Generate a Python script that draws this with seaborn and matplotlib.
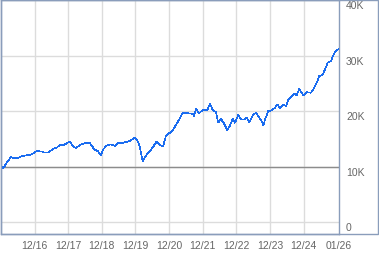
import matplotlib
matplotlib.use("Agg")
import matplotlib.pyplot as plt
import seaborn as sns
import pandas as pd
from matplotlib.patches import Rectangle

# decimal-year positions
years = [2015.917, 2015.985, 2016.087, 2016.214, 2016.304, 2016.402, 2016.503, 2016.631,
         2016.779, 2016.878, 2016.979, 2017.127, 2017.226, 2017.324, 2017.472, 2017.574,
         2017.672, 2017.791, 2017.871, 2017.969, 2018.049, 2018.147, 2018.266, 2018.365,
         2018.484, 2018.564, 2018.692, 2018.793, 2018.891, 2018.959, 2019.060, 2019.188,
         2019.307, 2019.405, 2019.507, 2019.626, 2019.753, 2019.881, 2019.982, 2020.051,
         2020.131, 2020.220, 2020.348, 2020.446, 2020.547, 2020.646, 2020.744, 2020.824,
         2020.943, 2021.041, 2021.190, 2021.321, 2021.487, 2021.618, 2021.657, 2021.716,
         2021.814, 2021.915, 2022.052, 2022.133, 2022.213, 2022.311, 2022.379, 2022.451,
         2022.528, 2022.647, 2022.727, 2022.808, 2022.876, 2022.974, 2023.055, 2023.174,
         2023.224, 2023.301, 2023.402, 2023.501, 2023.569, 2023.670, 2023.718, 2023.789,
         2023.867, 2023.968, 2024.066, 2024.134, 2024.214, 2024.313, 2024.393, 2024.461,
         2024.562, 2024.640, 2024.711, 2024.788, 2024.860, 2024.907, 2025.008, 2025.136,
         2025.205, 2025.306, 2025.383, 2025.484, 2025.553, 2025.633, 2025.731, 2025.800,
         2025.871, 2025.948, 2025.969]

values = [10000, 9700, 10700, 11700, 11500, 11500, 11800, 12000,
          12100, 12400, 12800, 12700, 12500, 12500, 13200, 13400,
          13900, 13900, 14200, 14500, 13700, 13300, 13900, 14100,
          14300, 14200, 13100, 12800, 12000, 13100, 13800, 14000,
          13700, 14300, 14200, 14400, 14600, 15200, 14600, 13400,
          10900, 11900, 12800, 13600, 14500, 13800, 13700, 15600,
          16100, 16700, 18200, 19700, 19600, 19500, 19100, 20400,
          19600, 20200, 20200, 21300, 20200, 19800, 17900, 18600,
          18000, 16600, 17400, 18600, 17900, 19300, 18500, 18500,
          18800, 18000, 19200, 19700, 19100, 18200, 17400, 18800,
          20000, 20100, 20600, 21200, 20500, 21100, 20900, 22000,
          22700, 23100, 22800, 24000, 23300, 22800, 23400, 23300,
          23900, 25100, 26300, 26500, 27500, 28700, 29000, 30000,
          30800, 31100, 31200]

x_tick_pos = [2016.917, 2017.917, 2018.917, 2019.917, 2020.917, 2021.917,
              2022.917, 2023.917, 2024.917, 2025.97]
x_tick_labels = ["12/16", "12/17", "12/18", "12/19", "12/20", "12/21",
                 "12/22", "12/23", "12/24", "01/26"]
y_tick_vals = [0, 10000, 20000, 30000, 40000]
y_tick_labels = ["0", "10K", "20K", "30K", "40K"]
baseline = 10000

df = pd.DataFrame({"year": years, "value": values})

sns.set_style("white")
plt.rcParams["font.family"] = ["Liberation Sans", "DejaVu Sans"]

W, H = 379, 255
fig = plt.figure(figsize=(W / 100, H / 100), dpi=100)
ax = fig.add_axes([1 / W, 1 - 235 / H, 338 / W, 234 / H])

border = "#8a9dbb"
grid = "#dcdcdc"
txt = "#666666"

ax.set_xlim(2015.917, 2025.97)
ax.set_ylim(-2150, 40000)

for xt in x_tick_pos[:-1]:
    ax.axvline(xt, color=grid, lw=1.0, zorder=0)
for yt in y_tick_vals:
    ax.axhline(yt, color=grid, lw=1.0, zorder=0)
ax.axhline(baseline, color="#8c8c8c", lw=1.0, zorder=1)

sns.lineplot(data=df, x="year", y="value", ax=ax, color="#1a6cf0", lw=0.45, zorder=3)
for ln in ax.lines[-1:]:
    ln.set_antialiased(False)

ax.set_xticks(x_tick_pos)
ax.set_xticklabels(x_tick_labels)
ax.set_yticks(y_tick_vals)
ax.set_yticklabels(y_tick_labels)
ax.yaxis.tick_right()
ax.tick_params(axis="both", length=0, labelsize=7.5, labelcolor=txt)
ax.tick_params(axis="x", pad=4)
ax.tick_params(axis="y", pad=5)
for lab in ax.get_yticklabels():
    lab.set_verticalalignment("top")
    lab.set_horizontalalignment("left")
ax.set_xlabel("")
ax.set_ylabel("")
for s in ax.spines.values():
    s.set_visible(True)
    s.set_color(border)
    s.set_linewidth(1.0)

# outer frame including the label column
fig.patches.append(Rectangle((1 / W, 1 - 235 / H), 377 / W, 234.5 / H,
                             transform=fig.transFigure, fill=False,
                             edgecolor=border, lw=1.0))

fig.savefig("out.png", dpi=100)
